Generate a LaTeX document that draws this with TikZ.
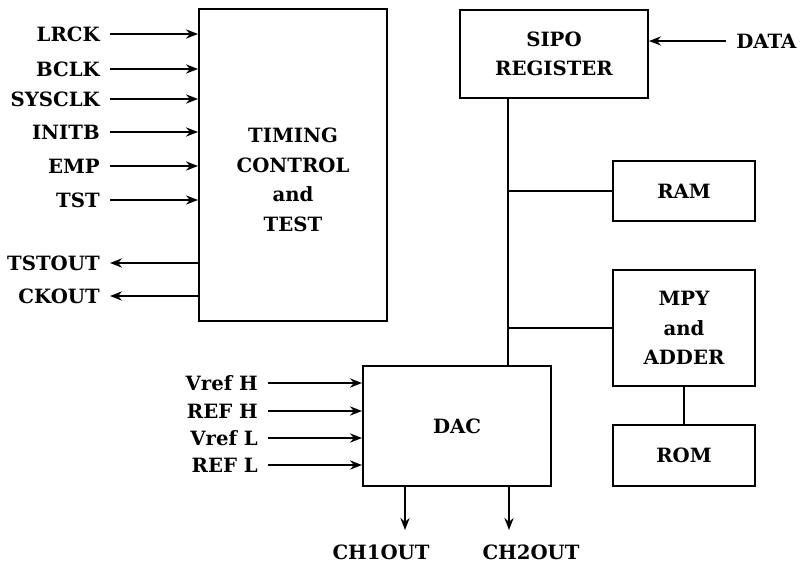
\documentclass[tikz,border=0pt]{standalone}
\usepackage{fontspec}
\setmainfont{DejaVu Serif}
\usetikzlibrary{arrows.meta,positioning}

\begin{document}
\begin{tikzpicture}[x=0.025cm, y=-0.025cm,
      every node/.style={font=\fontsize{14}{21}\selectfont\bfseries},
      box/.style={draw, line width=1.4pt, align=center, inner sep=0pt},
      pinlbl/.style={inner xsep=0.25cm, inner ysep=0pt},
      arr/.style={-{Stealth[length=3mm, width=2.3mm]}, line width=1pt},
      wire/.style={line width=1.2pt}]
    \useasboundingbox (0,0) rectangle (800,563);
    % blocks
    \node[box, minimum width=4.7cm, minimum height=7.8cm] (timing) at (293,165) {};
    \node[align=center] (timingtxt) at (293,180) {TIMING\\CONTROL\\and\\TEST};
    \node[box, minimum width=4.7cm, minimum height=2.2cm] (sipo) at (554,54) {SIPO\\REGISTER};
    \node[box, minimum width=3.55cm, minimum height=1.5cm] (ram) at (684,191) {RAM};
    \node[box, minimum width=3.55cm, minimum height=2.9cm] (mpy) at (684,328) {MPY\\and\\ADDER};
    \node[box, minimum width=3.55cm, minimum height=1.525cm] (rom) at (684,455.5) {ROM};
    \node[box, minimum width=4.7cm, minimum height=3cm] (dac) at (457,426) {DAC};
    % pins of the timing block
    \node[pinlbl, anchor=east] (lrck) at (110,34) {LRCK};
    \node[pinlbl, anchor=east] (bclk) at (110,69) {BCLK};
    \node[pinlbl, anchor=east] (sysclk) at (110,99) {SYSCLK};
    \node[pinlbl, anchor=east] (initb) at (110,132) {INITB};
    \node[pinlbl, anchor=east] (emp) at (110,166) {EMP};
    \node[pinlbl, anchor=east] (tst) at (110,200) {TST};
    \node[pinlbl, anchor=east] (tstout) at (110,263) {TSTOUT};
    \node[pinlbl, anchor=east] (ckout) at (110,296) {CKOUT};
    \draw[arr] (lrck) -- (lrck -| timing.west); \draw[arr] (bclk) -- (bclk -| timing.west);
    \draw[arr] (sysclk) -- (sysclk -| timing.west); \draw[arr] (initb) -- (initb -| timing.west);
    \draw[arr] (emp) -- (emp -| timing.west); \draw[arr] (tst) -- (tst -| timing.west);
    \draw[arr] (tstout -| timing.west) -- (tstout); \draw[arr] (ckout -| timing.west) -- (ckout);
    % serial data in
    \node[pinlbl, anchor=west] (data) at (726,41) {DATA};
    \draw[arr] (data) -- (data -| sipo.east);
    % internal bus
    \coordinate (bus) at (508,0);
    \draw[wire] (sipo.south -| bus) -- (dac.north -| bus);
    \draw[wire] (ram.west) -- (ram.west -| bus); \draw[wire] (mpy.west) -- (mpy.west -| bus);
    \draw[wire] (mpy.south) -- (rom.north);
    % references of the DAC
    \node[pinlbl, anchor=east] (vrefh) at (268,383) {Vref H};
    \node[pinlbl, anchor=east] (refh) at (268,411) {REF H};
    \node[pinlbl, anchor=east] (vrefl) at (268,438) {Vref L};
    \node[pinlbl, anchor=east] (refl) at (268,465) {REF L};
    \draw[arr] (vrefh) -- (vrefh -| dac.west); \draw[arr] (refh) -- (refh -| dac.west);
    \draw[arr] (vrefl) -- (vrefl -| dac.west); \draw[arr] (refl) -- (refl -| dac.west);
    % analog outputs
    \coordinate (ch1) at (405,530); \coordinate (ch2) at (509,530);
    \draw[arr] (dac.south -| ch1) -- (ch1); \draw[arr] (dac.south -| ch2) -- (ch2);
    \node (ch1out) at (381,552) {CH1OUT};
    \node (ch2out) at (531,552) {CH2OUT};
  \end{tikzpicture}
\end{document}
